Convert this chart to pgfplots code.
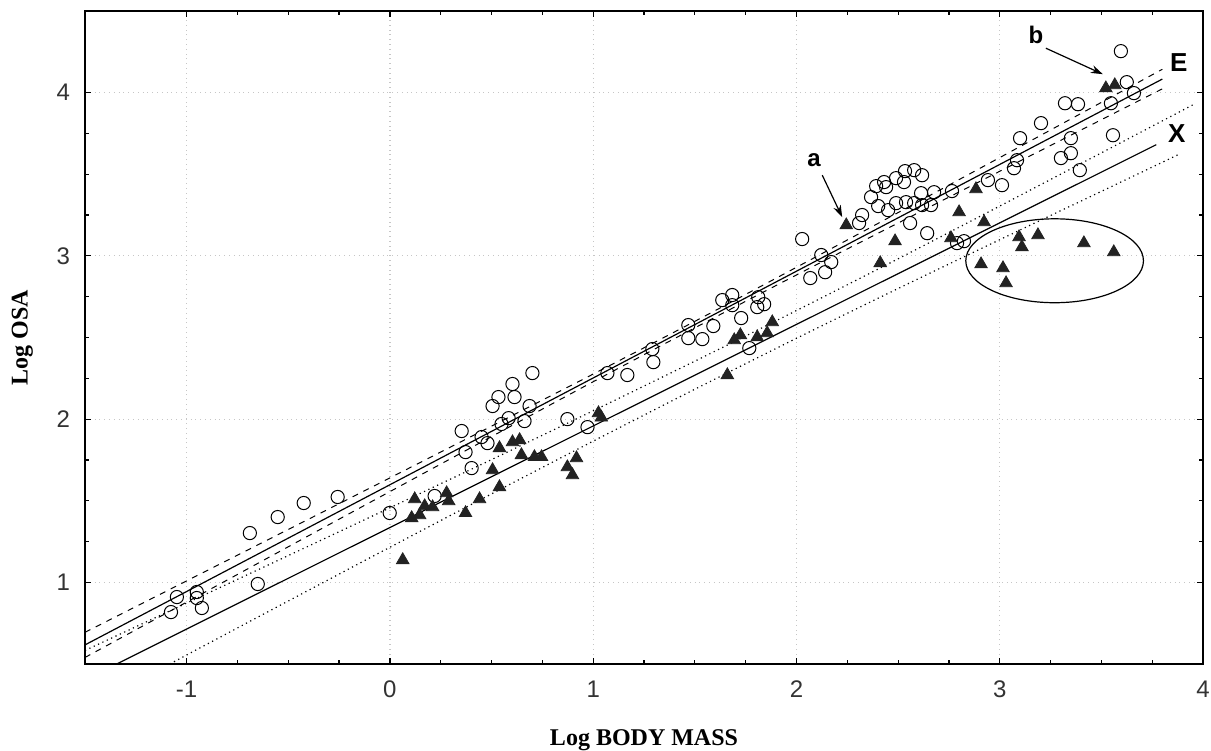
\documentclass[border=0pt]{standalone}
\usepackage{fontspec}
\setmainfont{Liberation Serif}
\setsansfont{Liberation Sans}
\usepackage{pgfplots}
\pgfplotsset{compat=1.18}
\usetikzlibrary{arrows.meta}
\definecolor{tri}{HTML}{222222}

\begin{document}
\begin{tikzpicture}
\begin{axis}[
  scale only axis,
  width=559pt, height=326.5pt,
  xmin=-1.5, xmax=4, ymin=0.5, ymax=4.5,
  xtick={-1,0,1,2,3,4}, ytick={1,2,3,4},
  minor x tick num=3, minor y tick num=3,
  tick align=inside,
  major tick length=3pt, minor tick length=2pt,
  tick style={black, line width=0.6pt},
  axis line style={line width=0.8pt},
  grid=major,
  major grid style={gray!45, dotted, line width=0.6pt},
  ticklabel style={font=\fontsize{12}{14}\sffamily, text=black!80},
  /pgf/number format/assume math mode=true,
  xticklabel style={yshift=-5pt},
  yticklabel style={xshift=-4pt},
  xlabel={Log BODY MASS}, ylabel={Log OSA},
  label style={font=\fontsize{12}{14}\selectfont\bfseries},
  xlabel style={yshift=-9pt},
  ylabel style={yshift=5pt},
  clip=true,
]

% E group: regression line and confidence band
\addplot[black, line width=0.6pt] coordinates {
(-1.5,0.617) (-1,0.944) (-0.5,1.271) (0,1.598) (0.5,1.925) (1,2.252)
(1.5,2.579) (2,2.906) (2.5,3.233) (3,3.560) (3.5,3.887) (3.8,4.083)};
\addplot[black, line width=0.5pt, dash pattern=on 3pt off 3pt, smooth] coordinates {
(-1.5,0.694) (-1,1.009) (-0.5,1.324) (0,1.640) (0.5,1.957) (1,2.276)
(1.5,2.599) (2,2.930) (2.5,3.265) (3,3.602) (3.5,3.940) (3.8,4.143)};
\addplot[black, line width=0.5pt, dash pattern=on 3pt off 3pt, smooth] coordinates {
(-1.5,0.540) (-1,0.879) (-0.5,1.218) (0,1.556) (0.5,1.893) (1,2.229)
(1.5,2.559) (2,2.883) (2.5,3.201) (3,3.518) (3.5,3.834) (3.8,4.023)};

% X group: regression line and confidence band
\addplot[black, line width=0.6pt] coordinates {
(-1.5,0.403) (-1,0.714) (-0.5,1.025) (0,1.336) (0.5,1.647) (1,1.958)
(1.5,2.269) (2,2.580) (2.5,2.891) (3,3.202) (3.5,3.513) (3.77,3.681)};
\addplot[black, line width=0.6pt, dash pattern=on 0.6pt off 1.8pt, smooth] coordinates {
(-1.5,0.583) (-1,0.873) (-0.5,1.164) (0,1.457) (0.5,1.752) (1,2.051)
(1.5,2.355) (2,2.665) (2.5,2.982) (3,3.305) (3.5,3.631) (3.95,3.925)};
\addplot[black, line width=0.6pt, dash pattern=on 0.6pt off 1.8pt, smooth] coordinates {
(-1.5,0.223) (-1,0.555) (-0.5,0.886) (0,1.215) (0.5,1.542) (1,1.865)
(1.5,2.183) (2,2.495) (2.5,2.800) (3,3.099) (3.5,3.395) (3.88,3.621)};

% open circles
\addplot[only marks, mark=o, mark size=3.3pt, black, line width=0.5pt] coordinates {
(-1.077,0.818) (-1.048,0.910) (-0.950,0.941) (-0.950,0.904) (-0.925,0.843)
(-0.650,0.990) (-0.689,1.302) (-0.552,1.400) (-0.424,1.486) (-0.257,1.523)
(-0.001,1.425) (0.220,1.529) (0.353,1.927) (0.372,1.798) (0.402,1.700)
(0.451,1.890) (0.480,1.853) (0.505,2.080) (0.534,2.135) (0.603,2.215)
(0.701,2.282) (0.613,2.135) (0.687,2.080) (0.584,2.006) (0.549,1.970)
(0.662,1.988) (0.873,2.000) (0.972,1.951) (1.070,2.282) (1.168,2.270)
(1.291,2.429) (1.296,2.349) (1.468,2.576) (1.468,2.496) (1.537,2.490)
(1.591,2.570) (1.635,2.729) (1.684,2.760) (1.684,2.698) (1.728,2.619)
(1.768,2.435) (1.812,2.747) (1.807,2.686) (1.841,2.704) (2.028,3.103)
(2.068,2.864) (2.122,3.005) (2.171,2.962) (2.141,2.900) (2.308,3.201)
(2.323,3.250) (2.367,3.360) (2.392,3.427) (2.431,3.452) (2.441,3.421)
(2.490,3.476) (2.534,3.519) (2.579,3.525) (2.618,3.494) (2.529,3.452)
(2.402,3.305) (2.451,3.280) (2.490,3.323) (2.539,3.329) (2.579,3.323)
(2.618,3.311) (2.613,3.384) (2.662,3.311) (2.677,3.390) (2.765,3.397)
(2.942,3.464) (2.559,3.201) (2.643,3.139) (2.790,3.078) (2.824,3.090)
(3.011,3.433) (3.070,3.537) (3.085,3.586) (3.301,3.599) (3.350,3.629)
(3.394,3.525) (3.100,3.721) (3.203,3.813) (3.321,3.935) (3.385,3.929)
(3.350,3.721) (3.547,3.935) (3.557,3.739) (3.625,4.064) (3.660,3.997)
(3.596,4.254)};

% filled triangles
\addplot[only marks, mark=triangle*, mark size=3.6pt, draw=tri, fill=tri] coordinates {
(0.063,1.137) (0.122,1.510) (0.107,1.394) (0.146,1.412) (0.171,1.467)
(0.210,1.461) (0.279,1.547) (0.289,1.498) (0.372,1.425) (0.441,1.510)
(0.505,1.688) (0.539,1.823) (0.603,1.859) (0.638,1.872) (0.647,1.780)
(0.711,1.768) (0.746,1.768) (0.873,1.706) (0.918,1.761) (0.898,1.657)
(0.539,1.584) (1.026,2.037) (1.040,2.010) (1.660,2.270) (1.694,2.484)
(1.724,2.515) (1.807,2.502) (1.856,2.527) (1.881,2.594) (2.245,3.188)
(2.485,3.090) (2.412,2.956) (2.760,3.109) (2.800,3.268) (2.883,3.409)
(2.923,3.207) (2.908,2.949) (3.016,2.925) (3.031,2.833) (3.095,3.115)
(3.109,3.054) (3.188,3.127) (3.414,3.078) (3.561,3.023) (3.522,4.027)
(3.566,4.046)};

% annotations
\draw[black, line width=0.6pt] (axis cs:3.27,2.97) ellipse [x radius=0.437, y radius=0.257];
\draw[black, line width=0.6pt, -{Stealth[length=6pt,width=4pt]}] (axis cs:2.127,3.494) -- (axis cs:2.225,3.237);
\draw[black, line width=0.6pt, -{Stealth[length=6pt,width=4pt]}] (axis cs:3.227,4.272) -- (axis cs:3.507,4.113);
\node[font=\fontsize{12}{14}\sffamily\bfseries] at (axis cs:2.087,3.586) {a};
\node[font=\fontsize{12}{14}\sffamily\bfseries] at (axis cs:3.178,4.352) {b};
\node[font=\fontsize{13}{15}\sffamily\bfseries] at (axis cs:3.881,4.186) {E};
\node[font=\fontsize{13}{15}\sffamily\bfseries] at (axis cs:3.871,3.752) {X};
\end{axis}
\pgfresetboundingbox
\path[use as bounding box] ([xshift=-42.5pt,yshift=-43.5pt]current axis.south west)
  rectangle ([xshift=4pt,yshift=5.5pt]current axis.north east);
\end{tikzpicture}
\end{document}
